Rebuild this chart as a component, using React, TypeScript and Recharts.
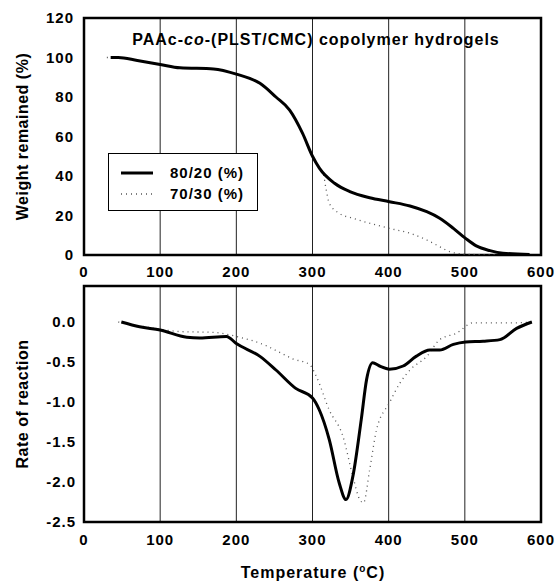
import React from 'react';
import { LineChart, Line, XAxis, YAxis, CartesianGrid, ReferenceArea } from 'recharts';

const FONT = '"Liberation Sans", Arial, Helvetica, sans-serif';

// axis ticks
const tempTicks = [0, 100, 200, 300, 400, 500, 600];
const weightTicks = [0, 20, 40, 60, 80, 100, 120];
const rateTicks = [-2.5, -2.0, -1.5, -1.0, -0.5, 0.0];

const seriesNames = ['80/20 (%)', '70/30 (%)'];

// TGA - weight remained, 80/20
const tgaTempA = [35, 45, 70, 100, 126, 170, 200, 231, 252, 270, 287, 300, 309, 329, 349, 375, 401, 428, 450, 467, 485, 501, 515, 533, 550, 585];
const tgaWeightA = [100, 100, 98.5, 96.5, 94.8, 94.2, 91.6, 86.9, 80, 73.4, 61.6, 50, 44, 36.3, 32.1, 29, 27, 24.8, 21.9, 18.6, 13.5, 8.4, 4.6, 2.2, 0.9, 0.3];

// TGA - weight remained, 70/30
const tgaTempB = [30, 45, 70, 100, 126, 170, 200, 231, 252, 270, 287, 300, 309, 314, 318, 322, 335, 353, 384, 401, 428, 450, 467, 480, 498, 540];
const tgaWeightB = [100, 100, 98.5, 96.5, 94.8, 94.2, 91.6, 86.9, 80, 73.4, 61.6, 50, 44, 41.4, 33, 26.2, 21.1, 18.6, 15.2, 13.5, 11, 7.6, 4.2, 1.7, 0.5, 0];

// DTG - rate of reaction, 80/20
const dtgTempA = [49, 73, 100, 135, 152, 187, 200, 231, 252, 278, 300, 309, 322, 335, 344, 353, 364, 371, 379, 388, 401, 419, 436, 454, 467, 485, 501, 524, 546, 568, 588];
const dtgRateA = [0, -0.06, -0.1, -0.19, -0.2, -0.18, -0.27, -0.43, -0.6, -0.83, -0.95, -1.1, -1.47, -2.01, -2.22, -1.93, -1.22, -0.72, -0.51, -0.55, -0.59, -0.55, -0.43, -0.35, -0.35, -0.28, -0.25, -0.24, -0.22, -0.08, 0];

// DTG - rate of reaction, 70/30
const dtgTempB = [45, 100, 126, 170, 200, 240, 257, 274, 296, 305, 322, 340, 353, 362, 367, 375, 384, 401, 415, 428, 450, 467, 489, 511, 568, 588];
const dtgRateB = [0, -0.09, -0.12, -0.13, -0.18, -0.3, -0.38, -0.46, -0.53, -0.68, -1.1, -1.43, -1.93, -2.22, -2.26, -1.85, -1.35, -1.01, -0.76, -0.6, -0.43, -0.22, -0.14, -0.01, -0.01, 0];

const zip = (xs: number[], ys: number[]) => xs.map((x, i) => ({ temp: x, value: ys[i] }));

const tickStyle = { fontSize: 15, fontWeight: 'bold', fill: '#000', fontFamily: FONT, letterSpacing: 1 };
const labelStyle = { textAnchor: 'middle', fontSize: 16, fontWeight: 'bold', fill: '#000', fontFamily: FONT, letterSpacing: 0.5 };

const solid = { stroke: '#000', strokeWidth: 3 };
const dotted = { stroke: '#555', strokeWidth: 1.3, strokeDasharray: '1 4' };

export default function App() {
  return (
    <div style={{ position: 'absolute', left: 0, top: 0, width: 556, height: 583, background: '#fff', fontFamily: FONT }}>
      {/* Weight remained */}
      <LineChart width={556} height={280} margin={{ top: 18, right: 15, left: 0, bottom: 0 }} style={{ position: 'absolute', left: 0, top: 0 }}>
        <CartesianGrid horizontal={false} stroke="#222" strokeWidth={1} />
        <XAxis dataKey="temp" type="number" domain={[0, 600]} ticks={tempTicks} height={25} tickLine={false} axisLine={false} tickSize={6} tickMargin={5} tick={tickStyle} allowDataOverflow />
        <YAxis type="number" domain={[0, 120]} ticks={weightTicks} width={84} tickLine={false} axisLine={false} tickSize={6} tickMargin={4} tick={tickStyle} allowDataOverflow
          label={{ value: 'Weight remained (%)', angle: -90, position: 'insideLeft', offset: 22, style: labelStyle }} />
        <ReferenceArea x1={0} x2={600} y1={0} y2={120} fill="none" stroke="#000" strokeWidth={2.5} ifOverflow="visible" />
        <Line data={zip(tgaTempB, tgaWeightB)} dataKey="value" name={seriesNames[1]} type="monotone" {...dotted} dot={false} isAnimationActive={false} />
        <Line data={zip(tgaTempA, tgaWeightA)} dataKey="value" name={seriesNames[0]} type="monotone" {...solid} dot={false} isAnimationActive={false} />
      </LineChart>

      <div style={{ position: 'absolute', left: 116, width: 400, top: 31, textAlign: 'center', fontSize: 16, lineHeight: '18px', fontWeight: 'bold', letterSpacing: 1 }}>
        PAAc-<i>co</i>-(PLST/CMC) copolymer hydrogels
      </div>

      <div style={{ position: 'absolute', left: 108, top: 153, width: 150, height: 58, boxSizing: 'border-box', border: '1px solid #000', background: '#fff' }}>
        {seriesNames.map((name, i) => (
          <div key={name} style={{ position: 'absolute', left: 0, top: i === 0 ? 9 : 30, height: 20, width: 150 }}>
            <svg width={40} height={20} style={{ position: 'absolute', left: 10, top: 0 }}>
              <line x1={2} x2={34} y1={10} y2={10} {...(i === 0 ? solid : dotted)} />
            </svg>
            <span style={{ position: 'absolute', left: 61, top: 1, fontSize: 15, lineHeight: '18px', fontWeight: 'bold', letterSpacing: 1 }}>{name}</span>
          </div>
        ))}
      </div>

      {/* Rate of reaction */}
      <LineChart width={556} height={313} margin={{ top: 16, right: 15, left: 0, bottom: 36 }} style={{ position: 'absolute', left: 0, top: 270 }}>
        <CartesianGrid horizontal={false} stroke="#222" strokeWidth={1} />
        <XAxis dataKey="temp" type="number" domain={[0, 600]} ticks={tempTicks} height={25} tickLine={false} axisLine={false} tickSize={6} tickMargin={6} tick={tickStyle} allowDataOverflow />
        <YAxis type="number" domain={[-2.5, 0.45]} ticks={rateTicks} width={84} tickLine={false} axisLine={false} tickSize={6} tickMargin={2} tick={tickStyle} allowDataOverflow
          tickFormatter={(v: number) => v.toFixed(1)}
          label={{ value: 'Rate of reaction', angle: -90, position: 'insideLeft', offset: 22, style: labelStyle }} />
        <ReferenceArea x1={0} x2={600} y1={-2.5} y2={0.45} fill="none" stroke="#000" strokeWidth={2.5} ifOverflow="visible" />
        <Line data={zip(dtgTempB, dtgRateB)} dataKey="value" name={seriesNames[1]} type="monotone" {...dotted} dot={false} isAnimationActive={false} />
        <Line data={zip(dtgTempA, dtgRateA)} dataKey="value" name={seriesNames[0]} type="monotone" {...solid} dot={false} isAnimationActive={false} />
      </LineChart>

      <div style={{ position: 'absolute', left: 163, width: 300, top: 559, textAlign: 'center', fontSize: 16, lineHeight: '20px', fontWeight: 'bold', letterSpacing: 1 }}>
        Temperature (<sup style={{ fontSize: 10 }}>o</sup>C)
      </div>
    </div>
  );
}
